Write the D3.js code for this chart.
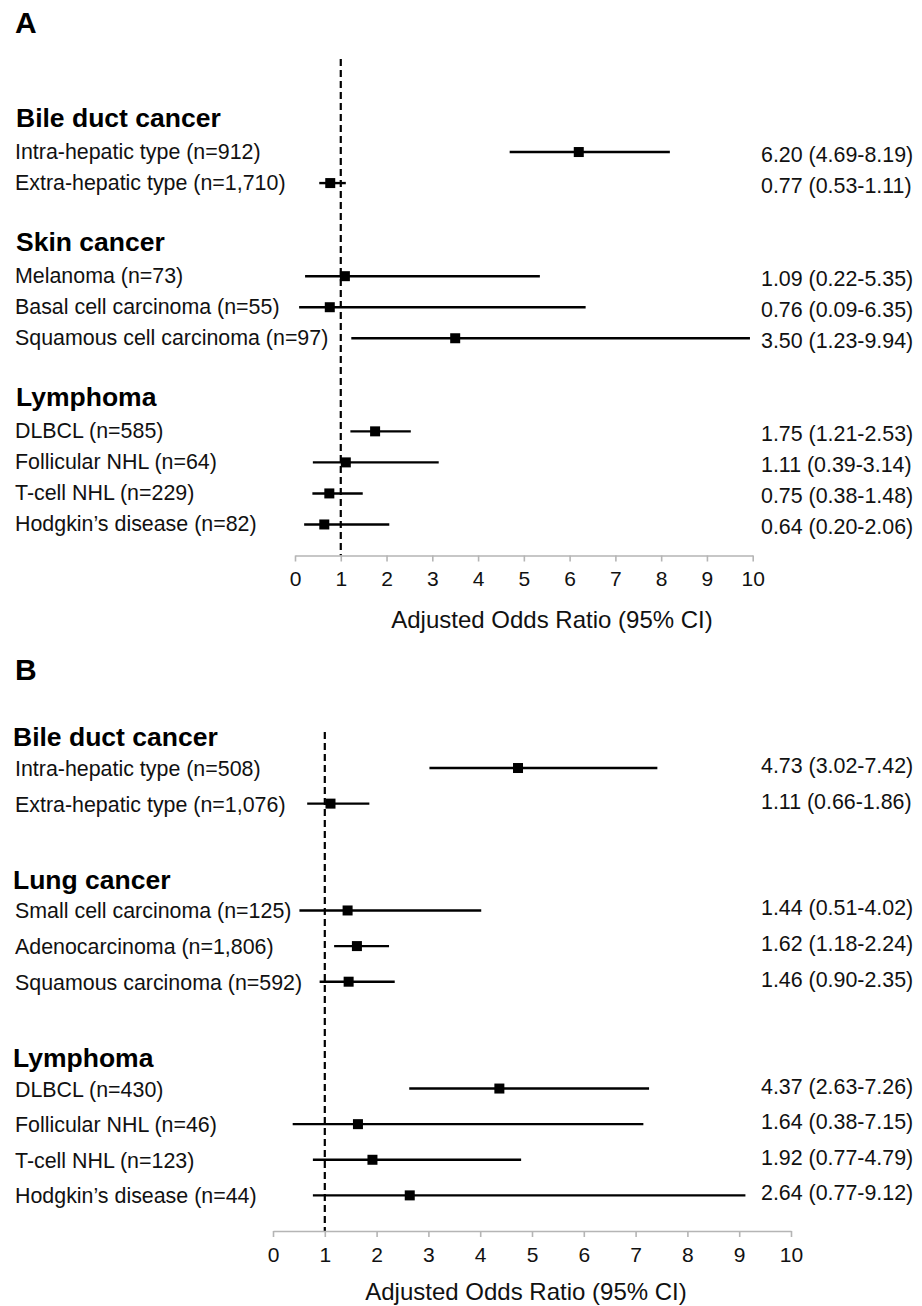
<!DOCTYPE html>
<html>
<head>
<meta charset="utf-8">
<script src="https://cdn.jsdelivr.net/npm/d3@7"></script>
<style>
  body { margin: 0; background: #fff; }
  svg { display: block; font-family: "Liberation Sans", Arial, sans-serif; }
</style>
</head>
<body>
<svg id="chart"></svg>
<script>
// ---- data ----
const xTicks = [0, 1, 2, 3, 4, 5, 6, 7, 8, 9, 10];
const axisTitle = "Adjusted Odds Ratio (95% CI)";

// panel A
const groupsA = ["Bile duct cancer", "Skin cancer", "Lymphoma"];
const labelsA = ["Intra-hepatic type (n=912)", "Extra-hepatic type (n=1,710)",
  "Melanoma (n=73)", "Basal cell carcinoma (n=55)", "Squamous cell carcinoma (n=97)",
  "DLBCL (n=585)", "Follicular NHL (n=64)", "T-cell NHL (n=229)", "Hodgkin\u2019s disease (n=82)"];
const groupOfA = [0, 0, 1, 1, 1, 2, 2, 2, 2];
const orA = [6.20, 0.77, 1.09, 0.76, 3.50, 1.75, 1.11, 0.75, 0.64];
const loA = [4.69, 0.53, 0.22, 0.09, 1.23, 1.21, 0.39, 0.38, 0.20];
const hiA = [8.19, 1.11, 5.35, 6.35, 9.94, 2.53, 3.14, 1.48, 2.06];

// panel B
const groupsB = ["Bile duct cancer", "Lung cancer", "Lymphoma"];
const labelsB = ["Intra-hepatic type (n=508)", "Extra-hepatic type (n=1,076)",
  "Small cell carcinoma (n=125)", "Adenocarcinoma (n=1,806)", "Squamous carcinoma (n=592)",
  "DLBCL (n=430)", "Follicular NHL (n=46)", "T-cell NHL (n=123)", "Hodgkin\u2019s disease (n=44)"];
const groupOfB = [0, 0, 1, 1, 1, 2, 2, 2, 2];
const orB = [4.73, 1.11, 1.44, 1.62, 1.46, 4.37, 1.64, 1.92, 2.64];
const loB = [3.02, 0.66, 0.51, 1.18, 0.90, 2.63, 0.38, 0.77, 0.77];
const hiB = [7.42, 1.86, 4.02, 2.24, 2.35, 7.26, 7.15, 4.79, 9.12];

const width = 922, height = 1306;
const svg = d3.select("#chart").attr("width", width).attr("height", height);
svg.append("rect").attr("width", width).attr("height", height).attr("fill", "#fff");

const fmt = d3.format(".2f");

function drawPanel(p) {
  const g = svg.append("g");

  // slot (row) for every heading and item: heading, items, blank row, ...
  let slot = 0;
  const headSlots = [], itemSlots = [];
  p.groups.forEach((name, gi) => {
    headSlots.push(slot); slot++;
    p.groupOf.forEach((k, i) => { if (k === gi) { itemSlots[i] = slot; slot++; } });
    if (gi < p.groups.length - 1) slot++;
  });
  const axisSlot = slot;

  const x = d3.scaleLinear().domain([0, 10]).range([p.x0, p.x1]);
  const y = d3.scaleLinear().domain([0, axisSlot]).range([p.yTop, p.yAxis]);

  // panel letter
  g.append("text").attr("x", 15).attr("y", p.letterY)
    .attr("font-size", 30).attr("font-weight", "bold").text(p.letter);

  // reference line at OR = 1
  g.append("line")
    .attr("x1", x(1)).attr("x2", x(1))
    .attr("y1", p.dashTop).attr("y2", p.yAxis)
    .attr("stroke", "#000").attr("stroke-width", 2.2)
    .attr("stroke-dasharray", "7,4");

  // headings
  g.selectAll(".head").data(p.groups).enter().append("text")
    .attr("x", p.headX).attr("y", (d, i) => y(headSlots[i]) + p.headDy)
    .attr("font-size", 26.5).attr("font-weight", "bold").attr("fill", "#000")
    .text(d => d);

  // row labels
  g.selectAll(".lab").data(p.labels).enter().append("text")
    .attr("x", p.itemX).attr("y", (d, i) => y(itemSlots[i]) + p.labDy)
    .attr("font-size", 21.4).attr("fill", "#111")
    .text(d => d);

  // CI lines
  g.selectAll(".ci").data(p.or).enter().append("line")
    .attr("x1", (d, i) => x(p.lo[i])).attr("x2", (d, i) => x(p.hi[i]))
    .attr("y1", (d, i) => y(itemSlots[i])).attr("y2", (d, i) => y(itemSlots[i]))
    .attr("stroke", "#000").attr("stroke-width", 2.4);

  // point estimates
  const s = 10;
  g.selectAll(".pt").data(p.or).enter().append("rect")
    .attr("x", d => x(d) - s / 2)
    .attr("y", (d, i) => y(itemSlots[i]) - s / 2)
    .attr("width", s).attr("height", s).attr("fill", "#000");

  // value text
  g.selectAll(".val").data(p.or).enter().append("text")
    .attr("x", 761).attr("y", (d, i) => y(itemSlots[i]) + p.valDy)
    .attr("font-size", 21.4).attr("fill", "#111")
    .text((d, i) => `${fmt(d)} (${fmt(p.lo[i])}-${fmt(p.hi[i])})`);

  // axis
  const ax = g.append("g").attr("transform", `translate(0,${p.yAxis})`)
    .call(d3.axisBottom(x).tickValues(xTicks).tickFormat(d3.format("d"))
      .tickSize(6).tickSizeOuter(0).tickPadding(10));
  ax.select(".domain").attr("stroke", "#b5b5b5").attr("stroke-width", 1.6);
  ax.selectAll(".tick line").attr("stroke", "#b5b5b5").attr("stroke-width", 1.6);
  ax.selectAll(".tick text").attr("font-size", 21).attr("fill", "#111")
    .attr("font-family", "\"Liberation Sans\", Arial, sans-serif");

  g.append("text").attr("x", p.titleX).attr("y", p.yAxis + p.titleDy)
    .attr("text-anchor", "middle").attr("font-size", 24).attr("fill", "#111")
    .text(axisTitle);
}

drawPanel({
  letter: "A", letterY: 33,
  groups: groupsA, labels: labelsA, groupOf: groupOfA, or: orA, lo: loA, hi: hiA,
  x0: 295, x1: 752.7, yTop: 121, yAxis: 555.5, dashTop: 59,
  headX: 16, headDy: 6, itemX: 15, labDy: 7, valDy: 10,
  titleX: 552, titleDy: 72
});

drawPanel({
  letter: "B", letterY: 680,
  groups: groupsB, labels: labelsB, groupOf: groupOfB, or: orB, lo: loB, hi: hiB,
  x0: 273, x1: 791, yTop: 732.4, yAxis: 1231, dashTop: 732,
  headX: 13, headDy: 14, itemX: 15, labDy: 8, valDy: 5,
  titleX: 526, titleDy: 69
});
</script>
</body>
</html>
